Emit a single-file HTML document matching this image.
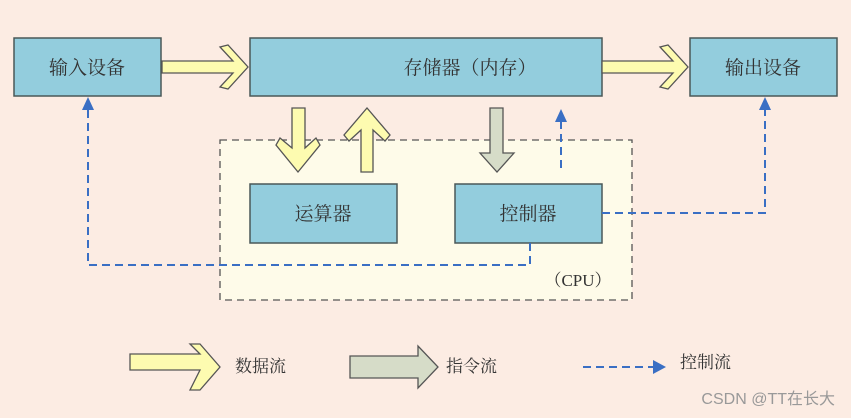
<!DOCTYPE html>
<html><head><meta charset="utf-8"><style>
html,body{margin:0;padding:0;background:#fcece3;}
svg{display:block;}
text{font-family:"Liberation Serif","Noto Serif CJK SC",serif;fill:#333;}
</style></head><body>
<svg width="851" height="418" viewBox="0 0 851 418" xmlns="http://www.w3.org/2000/svg">
<rect x="0" y="0" width="851" height="418" fill="#fcece3"/>
<!-- CPU dashed box -->
<rect x="220" y="140" width="412" height="160" fill="#fefbe9" stroke="#555" stroke-width="1.3" stroke-dasharray="7,5"/>
<!-- boxes -->
<g fill="#93cddd" stroke="#4a5858" stroke-width="1.5">
<rect x="14" y="38" width="147" height="58"/>
<rect x="250" y="38" width="352" height="58"/>
<rect x="690" y="38" width="147" height="58"/>
<rect x="250" y="184" width="147" height="59"/>
<rect x="455" y="184" width="147" height="59"/>
</g>
<g font-size="19" text-anchor="middle">
<text x="87" y="74">输入设备</text>
<text x="470" y="74">存储器（内存）</text>
<text x="763" y="74">输出设备</text>
<text x="323" y="220">运算器</text>
<text x="528" y="220">控制器</text>
<text x="578" y="286" font-size="17">（CPU）</text>
</g>
<!-- yellow arrows -->
<g fill="#fdfbb0" stroke="#555" stroke-width="1.3" stroke-linejoin="miter">
<polygon points="162,61 233,61 220,47 228,45 248,67 228,89 220,87 233,73 162,73"/>
<polygon points="602,61 673,61 660,47 668,45 688,67 668,89 660,87 673,73 602,73"/>
<polygon points="292,108 305,108 305,148 316,138 320,145 298,172 276,145 280,138 292,148"/>
<polygon points="361,172 373,172 373,130 385,141 390,135 367,108 344,135 349,141 361,130"/>
<polygon points="130,354 200,354 190,344 200,344 220,367 200,390 190,390 200,370 130,370"/>
</g>
<g fill="#d6dcc8" stroke="#555" stroke-width="1.3">
<polygon points="490,108 503,108 503,153 514,153 497,172 480,153 490,153"/>
<polygon points="350,356 418,356 418,346 438,367 418,388 418,378 350,378"/>
</g>
<!-- blue dashed -->
<g fill="none" stroke="#3a6fc4" stroke-width="2" stroke-dasharray="8,5">
<polyline points="561,168 561,120"/>
<polyline points="602,213 765,213 765,108"/>
<polyline points="530,243 530,265 88,265 88,108"/>
<line x1="583" y1="367" x2="655" y2="367"/>
</g>
<g fill="#3a6fc4">
<polygon points="561,109 555,122 567,122"/>
<polygon points="765,97 759,110 771,110"/>
<polygon points="88,97 82,110 94,110"/>
<polygon points="653,360 666,367 653,374"/>
</g>
<g font-size="17">
<text x="235" y="372">数据流</text>
<text x="446" y="372">指令流</text>
<text x="680" y="368">控制流</text>
</g>
<text x="835" y="404" text-anchor="end" font-size="16" style="font-family:'Liberation Sans','Noto Sans CJK SC',sans-serif;fill:#999">CSDN @TT在长大</text>
</svg>
</body></html>
